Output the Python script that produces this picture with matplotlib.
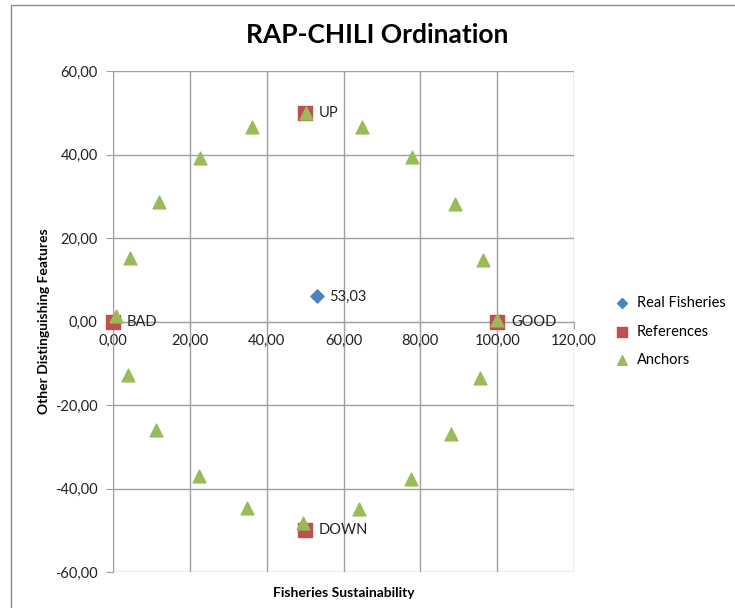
import matplotlib
matplotlib.use("Agg")
import matplotlib.pyplot as plt
from matplotlib.patches import Rectangle
from matplotlib.ticker import FuncFormatter

plt.rcParams['font.family'] = ['Lato', 'DejaVu Sans']

# данные
real_x = [53.03]
real_y = [6.0]
real_labels = ["53,03"]

ref_x = [0, 100, 50, 50]
ref_y = [0, 0, 50, -50]
ref_labels = ["BAD", "GOOD", "UP", "DOWN"]

anchor_x = [0.8, 4.4, 12.0, 22.6, 36.2, 50.2, 64.8, 77.8, 89.0, 96.3,
            99.9, 95.5, 88.0, 77.6, 64.0, 49.5, 34.9, 22.4, 11.2, 3.9]
anchor_y = [1.3, 15.2, 28.6, 39.2, 46.6, 50.0, 46.6, 39.4, 28.1, 14.7,
            0.4, -13.5, -26.9, -37.7, -44.9, -48.3, -44.7, -37.0, -26.0, -12.8]

x_ticks = [0, 20, 40, 60, 80, 100, 120]
y_ticks = [-60, -40, -20, 0, 20, 40, 60]

blue = "#4F81BD"
red = "#C0504D"
green = "#9BBB59"
grey = "#A0A0A0"

fig = plt.figure(figsize=(7.35, 6.08), dpi=100)
# рамка области диаграммы
fig.patches.append(Rectangle((11 / 735, -0.1), 1.2, 1 - 5 / 608 + 0.1,
                             transform=fig.transFigure, fill=False,
                             edgecolor="#8C8C8C", linewidth=1.0))

ax = fig.add_axes([113 / 735, 36 / 608, 461 / 735, 501 / 608])

ax.scatter(real_x, real_y, marker="D", s=45, color=blue, label="Real Fisheries",
           zorder=3, clip_on=False)
ax.scatter(ref_x, ref_y, marker="s", s=95, color=red, label="References",
           zorder=3, clip_on=False)
ax.scatter(anchor_x, anchor_y, marker="^", s=85, color=green, label="Anchors",
           zorder=4, clip_on=False)

for x, y, t in zip(real_x, real_y, real_labels):
    ax.annotate(t, (x, y), xytext=(9, 0), textcoords="offset points",
                va="center", fontsize=10.5, color="#222222")
for x, y, t in zip(ref_x, ref_y, ref_labels):
    ax.annotate(t, (x, y), xytext=(10, 0), textcoords="offset points",
                va="center", fontsize=10.5, color="#222222")

ax.set_xlim(0, 120)
ax.set_ylim(-60, 60)
ax.set_xticks(x_ticks)
ax.set_yticks(y_ticks)
fmt = FuncFormatter(lambda v, p: f"{v:.2f}".replace(".", ","))
ax.xaxis.set_major_formatter(fmt)
ax.yaxis.set_major_formatter(fmt)

ax.grid(True, color=grey, linewidth=1.0)
ax.set_axisbelow(True)
ax.spines['bottom'].set_position(('data', 0))
ax.spines['top'].set_visible(False)
ax.spines['right'].set_visible(False)
for s in ['bottom', 'left']:
    ax.spines[s].set_color(grey)
ax.tick_params(axis='both', colors=grey, labelcolor="#222222", labelsize=10.5,
               length=5, direction="out", pad=4)
ax.tick_params(axis='y', pad=6)

ax.set_xlabel("Fisheries Sustainability", fontsize=10, fontweight="bold")
ax.xaxis.set_label_coords(0.5, -0.03)
ax.set_ylabel("Other Distinguishing Features", fontsize=10, fontweight="bold", labelpad=4)

fig.text(377 / 735, 1 - 35 / 608, "RAP-CHILI Ordination", ha="center", va="center",
         fontsize=19, fontweight="bold")

ax.legend(loc="center left", bbox_to_anchor=(1.06, 0.48), frameon=False,
          fontsize=10.5, handletextpad=0.0, labelspacing=1.0, markerscale=0.75,
          borderaxespad=0)

fig.savefig("out.png", dpi=100)
